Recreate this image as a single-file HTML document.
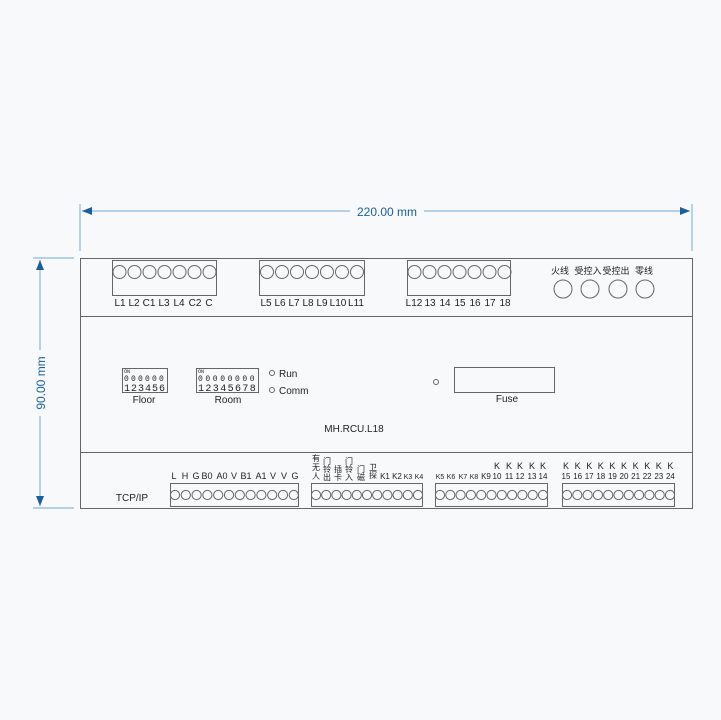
<!DOCTYPE html>
<html><head><meta charset="utf-8"><style>
html,body{margin:0;padding:0;background:#f7f9fb;}
svg{display:block;font-family:"Liberation Sans","Noto Sans CJK SC",sans-serif;}
</style></head><body>
<svg id="s" width="721" height="720" viewBox="0 0 721 720" xmlns="http://www.w3.org/2000/svg">
<rect width="721" height="720" fill="#f7f9fb"/>
<g stroke="#8ab8db" stroke-width="1.2">
<line x1="80" y1="204" x2="80" y2="251"/><line x1="692" y1="204" x2="692" y2="251"/>
<line x1="82" y1="211" x2="350" y2="211"/><line x1="424" y1="211" x2="690" y2="211"/>
<line x1="33" y1="258" x2="74" y2="258"/><line x1="33" y1="508" x2="74" y2="508"/>
<line x1="40" y1="260" x2="40" y2="350"/><line x1="40" y1="416" x2="40" y2="506"/>
</g>
<g fill="#1a5f9e">
<polygon points="82,211 92,207 92,215"/><polygon points="690,211 680,207 680,215"/>
<polygon points="40,260 36,270 44,270"/><polygon points="40,506 36,496 44,496"/>
</g>
<text x="387" y="216" font-size="12" fill="#1a5f9e" text-anchor="middle">220.00 mm</text>
<text transform="translate(45,383) rotate(-90)" font-size="12" fill="#1a5f9e" text-anchor="middle">90.00 mm</text>
<g fill="none" stroke="#666" stroke-width="1">
<rect x="80.5" y="258.5" width="612" height="250"/>
<line x1="80" y1="316.5" x2="693" y2="316.5"/>
<line x1="80" y1="452.5" x2="693" y2="452.5"/>
<rect x="112.5" y="260.5" width="104" height="35"/>
<rect x="259.5" y="260.5" width="105" height="35"/>
<rect x="407.5" y="260.5" width="103" height="35"/>
<rect x="122.5" y="368.5" width="45" height="24"/>
<rect x="196.5" y="368.5" width="62" height="24"/>
<rect x="454.5" y="367.5" width="100" height="25"/>
<circle cx="272" cy="373" r="2.5"/><circle cx="272" cy="390" r="2.5"/>
<circle cx="436" cy="382" r="2.5"/>
<rect x="170.5" y="483.5" width="128" height="23"/>
<rect x="311.5" y="483.5" width="111" height="23"/>
<rect x="435.5" y="483.5" width="112" height="23"/>
<rect x="562.5" y="483.5" width="112" height="23"/>
<circle cx="563" cy="289" r="9"/><circle cx="590" cy="289" r="9"/><circle cx="618" cy="289" r="9"/><circle cx="645" cy="289" r="9"/>
</g>
<g id="circ" fill="none" stroke="#666" stroke-width="1"></g>
<g font-size="10" fill="#222" text-anchor="middle">
<text x="120" y="306">L1</text><text x="134" y="306">L2</text><text x="149" y="306">C1</text><text x="164" y="306">L3</text><text x="179" y="306">L4</text><text x="195" y="306">C2</text><text x="209" y="306">C</text>
<text x="266" y="306">L5</text><text x="280" y="306">L6</text><text x="294" y="306">L7</text><text x="308" y="306">L8</text><text x="322" y="306">L9</text><text x="338" y="306">L10</text><text x="356" y="306">L11</text>
<text x="414" y="306">L12</text><text x="430" y="306">13</text><text x="445" y="306">14</text><text x="460" y="306">15</text><text x="475" y="306">16</text><text x="490" y="306">17</text><text x="505" y="306">18</text>
<text x="560" y="274" font-size="9">火线</text><text x="588" y="274" font-size="9">受控入</text><text x="616" y="274" font-size="9">受控出</text><text x="644" y="274" font-size="9">零线</text>
<text x="144" y="403">Floor</text><text x="228" y="403">Room</text>
<text x="507" y="402">Fuse</text>
<text x="354" y="432">MH.RCU.L18</text>
<text x="132" y="501">TCP/IP</text>
</g>
<g font-size="10" fill="#222">
<text x="279" y="377">Run</text><text x="279" y="394">Comm</text>
</g>
<g font-family="Liberation Mono,monospace" fill="#222">
<text x="124" y="373" font-size="5">ON</text>
<text x="198" y="373" font-size="5">ON</text>
<text x="124" y="391" font-size="10" letter-spacing="1">123456</text>
<text x="198" y="391" font-size="10" letter-spacing="1.4">12345678</text>
<text x="124" y="381" font-size="8" letter-spacing="2.2">000000</text>
<text x="198" y="381" font-size="8" letter-spacing="2.6">00000000</text>
</g>
<g font-size="9" fill="#222" text-anchor="middle">
<text x="174" y="479">L</text><text x="185" y="479">H</text><text x="196" y="479">G</text><text x="207" y="479">B0</text><text x="222" y="479">A0</text><text x="234" y="479">V</text><text x="246" y="479">B1</text><text x="261" y="479">A1</text><text x="273" y="479">V</text><text x="284" y="479">V</text><text x="295" y="479">G</text>
<text x="316" y="461" font-size="8">有</text><text x="316" y="470" font-size="8">无</text><text x="316" y="479" font-size="8">人</text>
<text x="327" y="464" font-size="8">门</text><text x="327" y="472" font-size="8">铃</text><text x="327" y="480" font-size="8">出</text>
<text x="338" y="472" font-size="8">插</text><text x="338" y="480" font-size="8">卡</text>
<text x="349" y="464" font-size="8">门</text><text x="349" y="472" font-size="8">铃</text><text x="349" y="480" font-size="8">入</text>
<text x="361" y="472" font-size="8">门</text><text x="361" y="480" font-size="8">磁</text>
<text x="373" y="470" font-size="8">卫</text><text x="373" y="478" font-size="8">探</text>
<text x="385" y="479" font-size="8">K1</text><text x="397" y="479" font-size="8">K2</text><text x="408" y="479" font-size="7">K3</text><text x="419" y="479" font-size="7">K4</text>
<text x="440" y="479" font-size="7">K5</text><text x="451" y="479" font-size="7">K6</text><text x="463" y="479" font-size="7">K7</text><text x="474" y="479" font-size="7">K8</text><text x="486" y="479" font-size="8">K9</text>
<text x="497" y="469">K</text><text x="509" y="469">K</text><text x="520" y="469">K</text><text x="532" y="469">K</text><text x="543" y="469">K</text>
<text x="497" y="479" font-size="8">10</text><text x="509" y="479" font-size="8">11</text><text x="520" y="479" font-size="8">12</text><text x="532" y="479" font-size="8">13</text><text x="543" y="479" font-size="8">14</text>
</g>
<g id="k2" font-size="9" fill="#222" text-anchor="middle"></g>
<script>
var ns="http://www.w3.org/2000/svg",g=document.getElementById("circ");
function c(x,y,r){var e=document.createElementNS(ns,"circle");e.setAttribute("cx",x);e.setAttribute("cy",y);e.setAttribute("r",r);g.appendChild(e);}
for(var i=0;i<7;i++){c(119.5+i*15,272,6.5);c(267+i*15,272,6.5);c(414.5+i*15,272,6.5);}
for(i=0;i<12;i++)c(175+i*10.8,495,4.6);
for(i=0;i<11;i++){c(316+i*10.2,495,4.6);c(440+i*10.3,495,4.6);c(567+i*10.3,495,4.6);}
var k=document.getElementById("k2");
for(i=0;i<10;i++){var x=566+i*11.6;
var t=document.createElementNS(ns,"text");t.setAttribute("x",x);t.setAttribute("y",469);t.textContent="K";k.appendChild(t);
t=document.createElementNS(ns,"text");t.setAttribute("x",x);t.setAttribute("y",479);t.setAttribute("font-size","8");t.textContent=String(15+i);k.appendChild(t);}
</script>
</svg>
</body></html>
